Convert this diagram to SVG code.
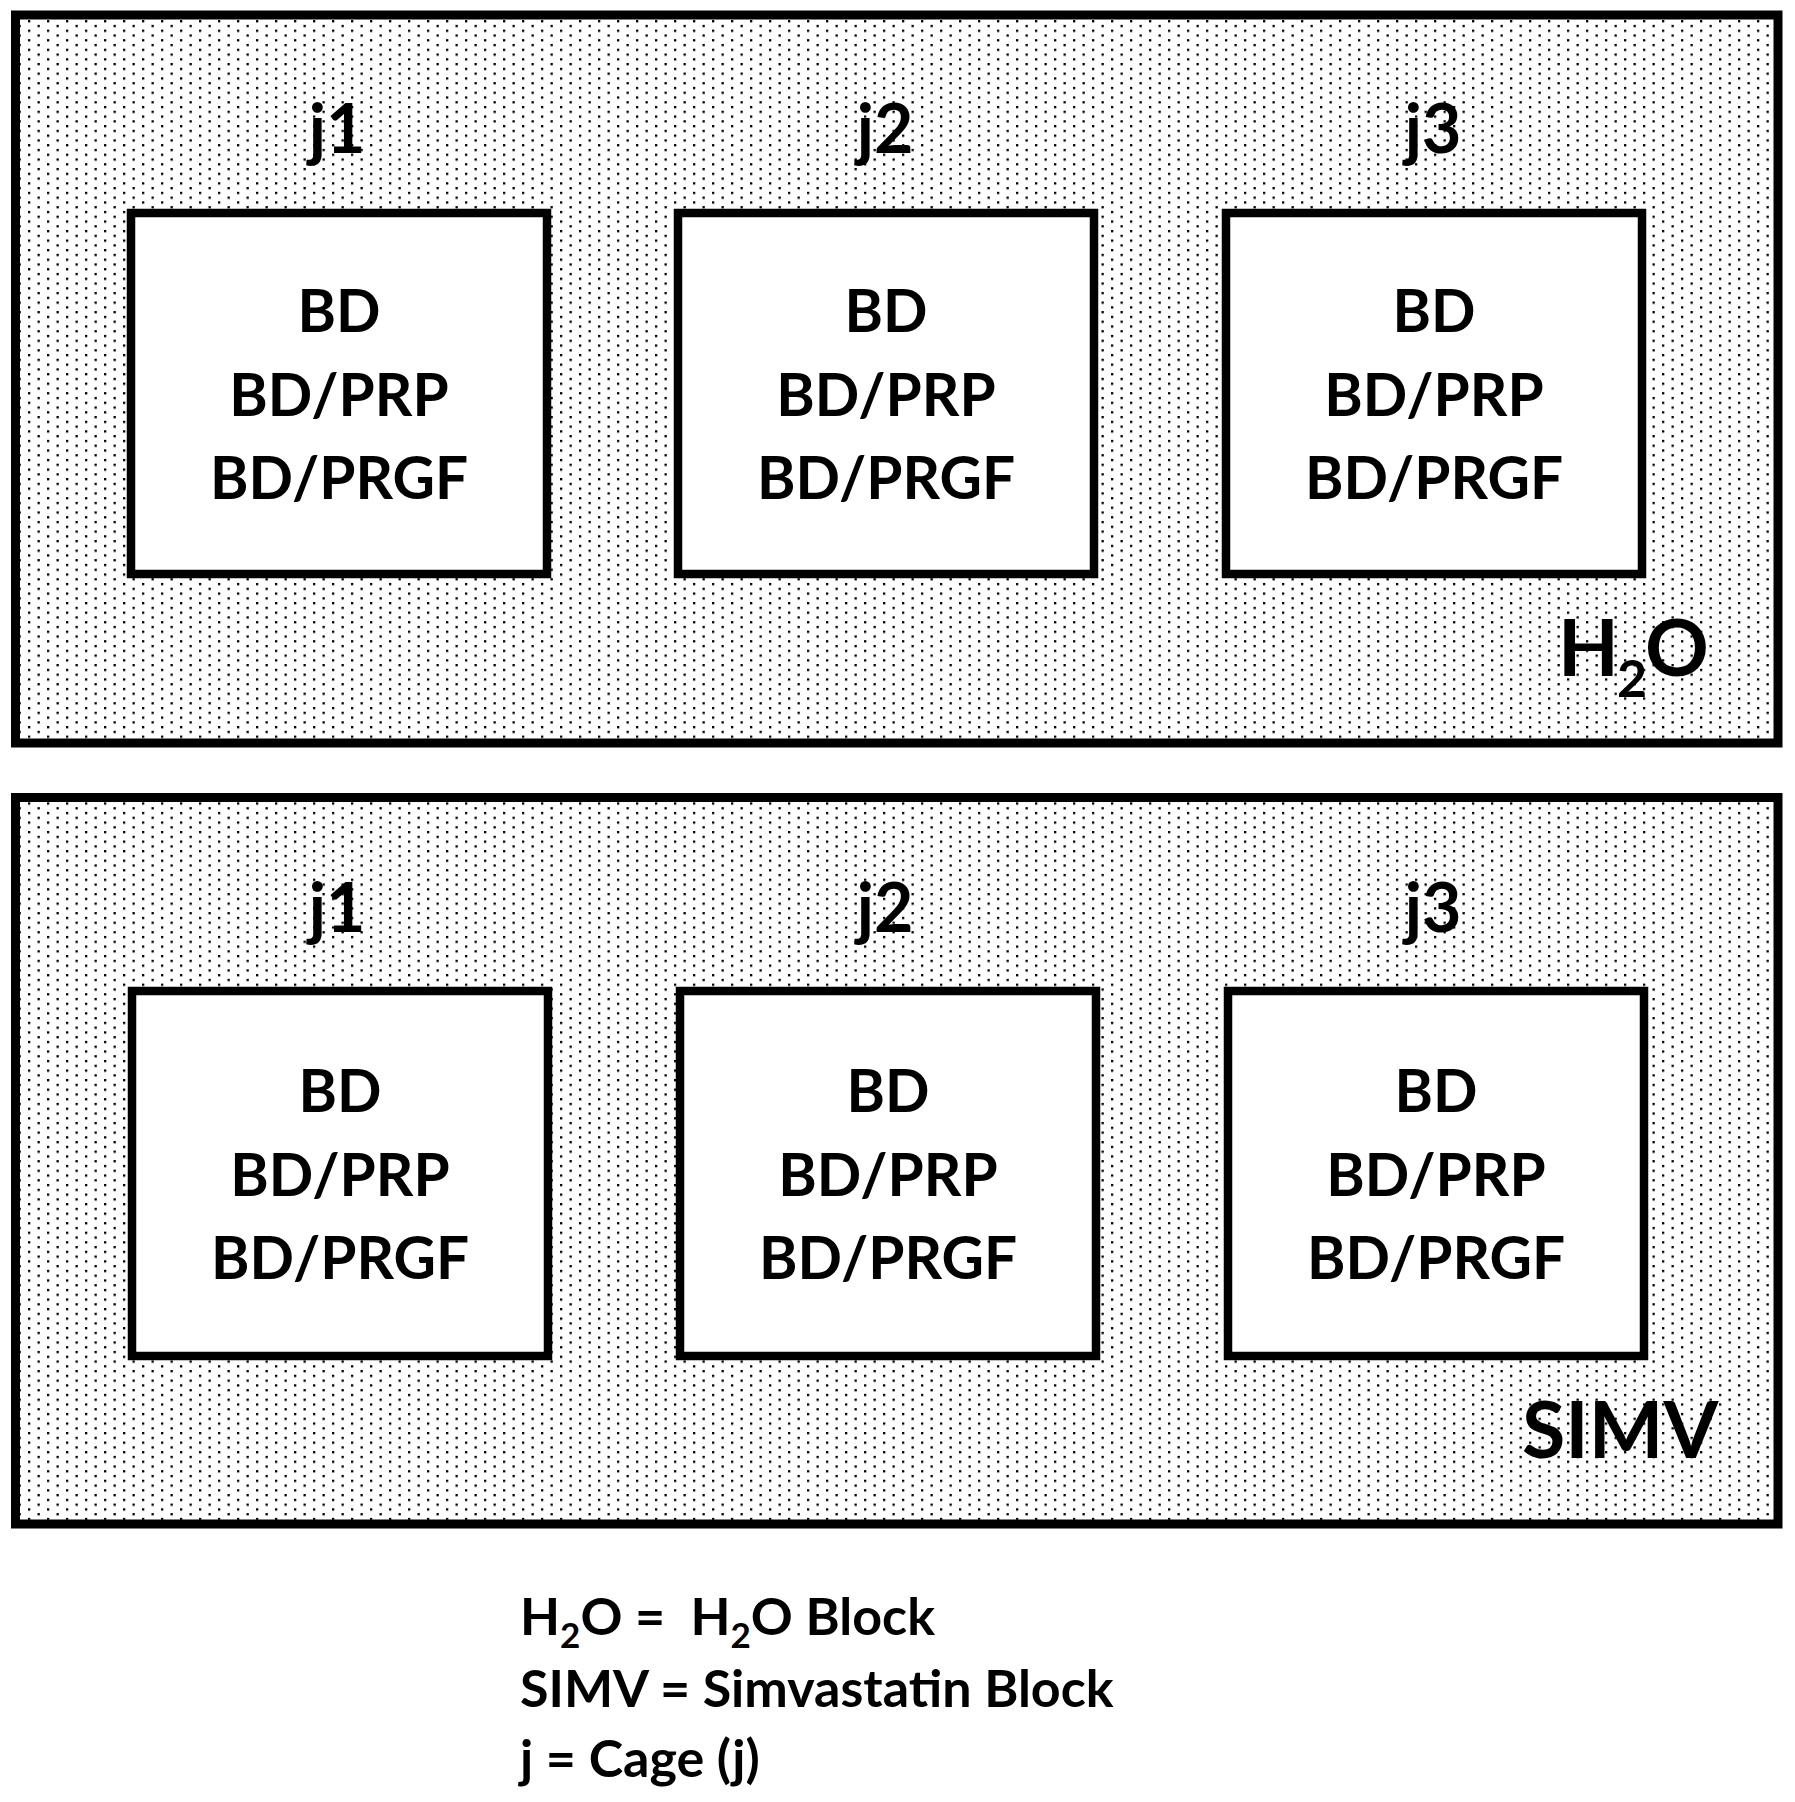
<svg xmlns="http://www.w3.org/2000/svg" width="1795" height="1802" viewBox="0 0 1795 1802">
<defs>
<pattern id="dots" x="9" y="1" width="19" height="9.54" patternUnits="userSpaceOnUse">
<rect x="0" y="0" width="2.3" height="2.3" fill="#000"/>
<rect x="9.5" y="4.77" width="2.3" height="2.3" fill="#000"/>
</pattern>
<style>
.block{fill:url(#dots);stroke:#000;stroke-width:9}
.cage{fill:#fff;stroke:#000;stroke-width:8.5}
text{font-family:Lato,"Open Sans","Liberation Sans",sans-serif;font-weight:700;fill:#000}
.t{font-size:58.5px;text-anchor:middle}
.j{font-size:68px;text-anchor:middle}
.big{font-size:79px}
.leg{font-size:52px}
</style>
</defs>
<rect width="1795" height="1802" fill="#fff"/>
<g id="block-h2o">
<rect class="block" x="15.5" y="15" width="1762.5" height="728"/>
<text class="big" x="1558" y="676" letter-spacing="-2">H<tspan font-size="52" dy="21">2</tspan><tspan dy="-21">O</tspan></text>
</g>
<g id="h2o-j1">
<text class="j" x="337" y="153">j1</text>
<rect class="cage" x="131" y="213" width="416" height="361"/>
<text class="t" x="339" y="332">BD</text>
<text class="t" x="339" y="416">BD/PRP</text>
<text class="t" x="339" y="499">BD/PRGF</text>
</g>
<g id="h2o-j2">
<text class="j" x="885" y="153">j2</text>
<rect class="cage" x="678" y="213" width="416" height="361"/>
<text class="t" x="886" y="332">BD</text>
<text class="t" x="886" y="416">BD/PRP</text>
<text class="t" x="886" y="499">BD/PRGF</text>
</g>
<g id="h2o-j3">
<text class="j" x="1433" y="153">j3</text>
<rect class="cage" x="1226" y="213" width="416" height="361"/>
<text class="t" x="1434" y="332">BD</text>
<text class="t" x="1434" y="416">BD/PRP</text>
<text class="t" x="1434" y="499">BD/PRGF</text>
</g>
<g id="block-simv">
<rect class="block" x="15.5" y="797.5" width="1762.5" height="726.5"/>
<text class="big" x="1522" y="1458">SIMV</text>
</g>
<g id="simv-j1">
<text class="j" x="337" y="932">j1</text>
<rect class="cage" x="132" y="991" width="416" height="365"/>
<text class="t" x="340" y="1112">BD</text>
<text class="t" x="340" y="1196">BD/PRP</text>
<text class="t" x="340" y="1279">BD/PRGF</text>
</g>
<g id="simv-j2">
<text class="j" x="885" y="932">j2</text>
<rect class="cage" x="680" y="991" width="416" height="365"/>
<text class="t" x="888" y="1112">BD</text>
<text class="t" x="888" y="1196">BD/PRP</text>
<text class="t" x="888" y="1279">BD/PRGF</text>
</g>
<g id="simv-j3">
<text class="j" x="1433" y="932">j3</text>
<rect class="cage" x="1228" y="991" width="416" height="365"/>
<text class="t" x="1436" y="1112">BD</text>
<text class="t" x="1436" y="1196">BD/PRP</text>
<text class="t" x="1436" y="1279">BD/PRGF</text>
</g>
<g id="connectors"></g>
<g id="legend">
<text class="leg" x="520" y="1635" xml:space="preserve">H<tspan font-size="35" dy="13">2</tspan><tspan dy="-13">O =  H</tspan><tspan font-size="35" dy="13">2</tspan><tspan dy="-13">O Block</tspan></text>
<text class="leg" x="520" y="1707">SIMV = Simvastatin Block</text>
<text class="leg" x="520" y="1777">j = Cage (j)</text>
</g>
</svg>
